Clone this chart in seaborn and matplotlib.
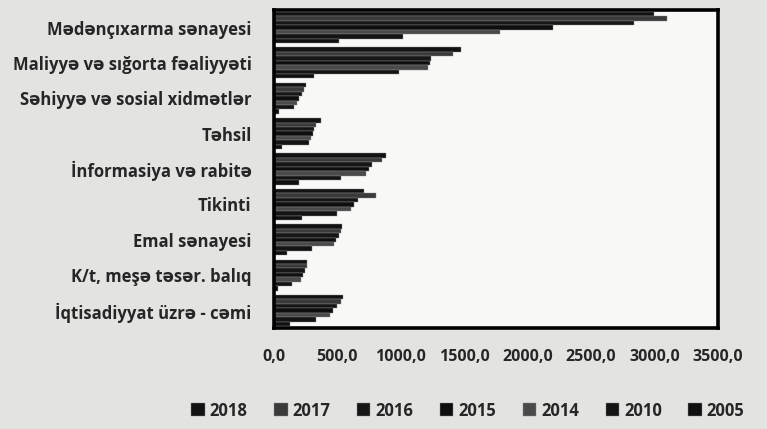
import pandas as pd
import numpy as np
import matplotlib
matplotlib.use("Agg")
import matplotlib.pyplot as plt
import seaborn as sns

# sectors, top to bottom as in the chart
sectors = ["Mədənçıxarma sənayesi", "Maliyyə və sığorta fəaliyyəti",
           "Səhiyyə və sosial xidmətlər", "Təhsil", "İnformasiya və rabitə",
           "Tikinti", "Emal sənayesi", "K/t, meşə təsər. balıq",
           "İqtisadiyyat üzrə - cəmi"]
years = ["2018", "2017", "2016", "2015", "2014", "2010", "2005"]

# values (one list per year, in sector order)
v2018 = [2995, 1478, 251, 370, 884, 710, 538, 264, 545]
v2017 = [3101, 1410, 238, 330, 855, 805, 530, 258, 528]
v2016 = [2837, 1240, 222, 317, 777, 660, 515, 245, 500]
v2015 = [2203, 1227, 198, 305, 752, 630, 490, 230, 467]
v2014 = [1782, 1213, 182, 290, 726, 610, 475, 211, 445]
v2010 = [1016, 990, 158, 280, 528, 495, 301, 143, 331]
v2005 = [515, 317, 40, 64, 198, 222, 103, 30, 124]

colors = ["#121212", "#3a3a3a", "#161616", "#0e0e0e", "#4a4a4a", "#141414", "#101010"]

def build_df():
    """Long table for seaborn"""
    vals = [v2018, v2017, v2016, v2015, v2014, v2010, v2005]
    rows = []
    for y, v in zip(years, vals):
        for s, x in zip(sectors, v):
            rows.append({"sektor": s, "il": y, "deyer": x})
    return pd.DataFrame(rows)


df = build_df()

sns.set_style("white")
plt.rcParams["font.family"] = ["Open Sans", "DejaVu Sans"]
plt.rcParams["font.weight"] = "bold"

fig = plt.figure(figsize=(7.67, 4.29), dpi=100, facecolor="#e3e3e1")
ax = fig.add_axes([0.357, 0.235, 0.579, 0.742])
ax.set_facecolor("#f8f8f7")

sns.barplot(data=df, y="sektor", x="deyer", hue="il", order=sectors,
            hue_order=years, palette=colors, orient="h", width=0.88,
            edgecolor="#8a8a8a", linewidth=0.3, ax=ax)

ax.set_xlim(0, 3500)
ticks = np.arange(0, 3501, 500)
ax.set_xticks(ticks)
ax.set_xticklabels([f"{t:.1f}".replace(".", ",") for t in ticks],
                   fontsize=11.5, fontweight="bold")
ax.tick_params(axis="x", length=0, pad=15)
ax.tick_params(axis="y", length=0, pad=16, labelsize=12)
for lab in ax.get_yticklabels():
    lab.set_fontweight("bold")
ax.set_xlabel("")
ax.set_ylabel("")

for sp in ax.spines.values():
    sp.set_visible(True)
    sp.set_linewidth(2.6)
    sp.set_color("black")

ax.legend(loc="center", bbox_to_anchor=(0.61, 0.043), bbox_transform=fig.transFigure,
          ncol=7, frameon=False, handlelength=0.8, handleheight=0.8,
          handletextpad=0.3, columnspacing=1.6,
          prop={"size": 12, "weight": "bold"})

fig.savefig("out.png", dpi=100, facecolor=fig.get_facecolor())
